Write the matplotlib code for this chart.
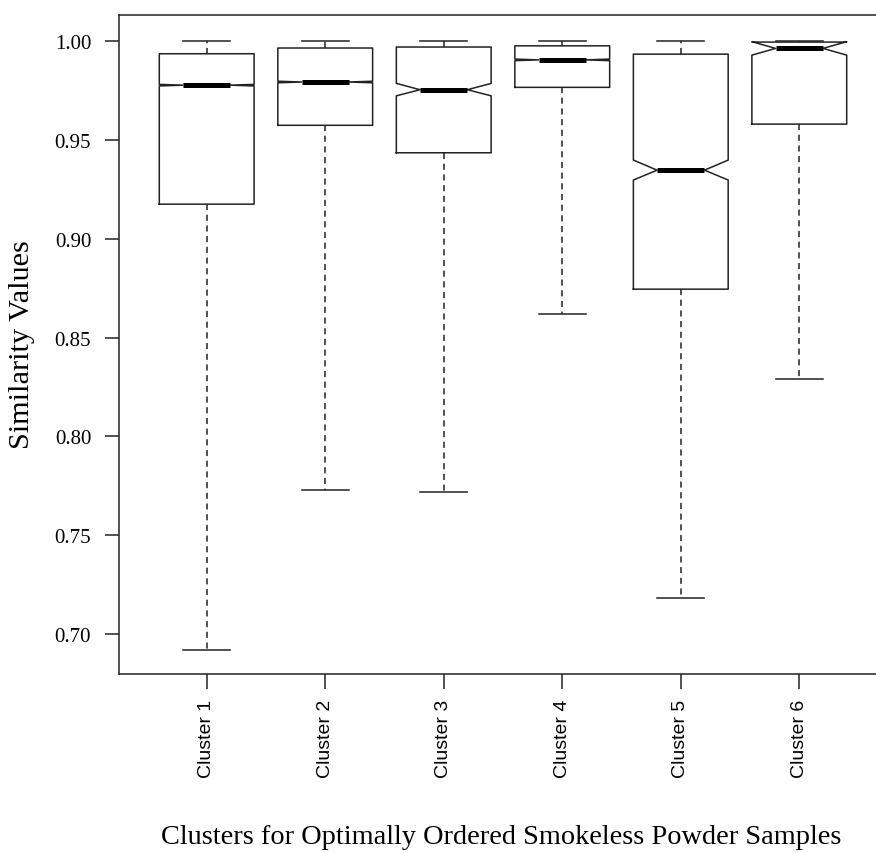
import matplotlib
matplotlib.use("Agg")
import matplotlib.pyplot as plt

clusters = ["Cluster 1", "Cluster 2", "Cluster 3", "Cluster 4", "Cluster 5", "Cluster 6"]
whislo = [0.692, 0.773, 0.772, 0.862, 0.718, 0.829]
q1 = [0.9175, 0.9574, 0.9435, 0.9766, 0.8745, 0.958]
med = [0.9777, 0.9793, 0.9754, 0.9905, 0.9347, 0.9963]
q3 = [0.9936, 0.9965, 0.997, 0.9976, 0.9934, 0.9995]
whishi = [1.0, 1.0, 1.0, 1.0, 1.0, 1.0]
cilo = [0.9773, 0.9789, 0.9723, 0.9901, 0.9297, 0.9929]
cihi = [0.9781, 0.9797, 0.9786, 0.9909, 0.9398, 0.9997]
yticks = [0.70, 0.75, 0.80, 0.85, 0.90, 0.95, 1.00]

stats = []
for i in range(len(clusters)):
    stats.append(dict(label=clusters[i], whislo=whislo[i], q1=q1[i], med=med[i],
                      q3=q3[i], whishi=whishi[i], cilo=cilo[i], cihi=cihi[i], fliers=[]))

fig = plt.figure(figsize=(8.76, 8.54), dpi=100)
ax = fig.add_axes([119/876, 1-675/854, (887-119)/876, (675-16)/854])

ax.bxp(stats, positions=range(1, 7), widths=0.8, capwidths=0.4, shownotches=True,
       showfliers=False,
       boxprops=dict(color="#222222", lw=1.1),
       whiskerprops=dict(color="#222222", lw=1.1, linestyle=(0, (4, 3))),
       capprops=dict(color="#222222", lw=1.1),
       medianprops=dict(color="black", lw=3.6, solid_capstyle="butt"))

ax.set_xlim(0.26, 6.74)
ax.set_ylim(0.6798, 1.0132)
ax.set_yticks(yticks)
ax.set_yticklabels(["%.2f" % v for v in yticks], family="Liberation Serif", fontsize=15)
ax.set_xticks(range(1, 7))
ax.set_xticklabels(clusters, rotation=90, family="Liberation Sans", fontsize=14)
ax.tick_params(axis="y", length=10, width=1.1, pad=10, color="#222222")
ax.tick_params(axis="x", length=11, width=1.1, pad=7, color="#222222")
for s in ax.spines.values():
    s.set_linewidth(1.1)
    s.set_color("#222222")

fig.text(22/876, 1-345/854, "Similarity Values", rotation=90, ha="center", va="center",
         family="Liberation Serif", fontsize=21.8)
fig.text(501/876, 1-838/854, "Clusters for Optimally Ordered Smokeless Powder Samples",
         ha="center", va="center", family="Liberation Serif", fontsize=20.4)

fig.savefig("out.png", dpi=100)
